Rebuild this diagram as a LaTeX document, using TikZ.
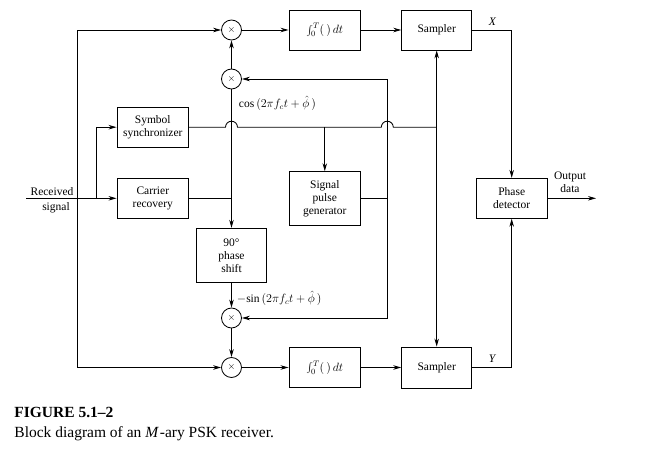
\documentclass[tikz,border=0pt]{standalone}
\usepackage{fontspec}
\setmainfont{Liberation Serif}
\usetikzlibrary{arrows.meta}
\begin{document}
\begin{tikzpicture}[x=1pt,y=-1pt,
  line width=0.85pt,
  >={Stealth[length=8pt,width=4.5pt]},
  blk/.style={draw,minimum width=71.7pt,minimum height=40pt,inner sep=1pt,align=center,font=\fontsize{11.5}{13}\selectfont},
  mult/.style={draw,circle,minimum size=20pt,inner sep=0pt},
  lbl/.style={inner sep=0pt,font=\fontsize{11.5}{13}\selectfont}]
\useasboundingbox (0,0) rectangle (657,465);
% blocks
\node[blk] (int1) at (324.8,30) {$\int_0^T(\,)\,dt$};
\node[blk,minimum width=70pt] (samp1) at (436.7,30) {Sampler};
\node[blk] (int2) at (324.8,367.5) {$\int_0^T(\,)\,dt$};
\node[blk,minimum width=70pt,minimum height=41pt] (samp2) at (436.7,367.5) {Sampler};
\node[blk] (sync) at (152.8,127.2) {Symbol\\synchronizer};
\node[blk] (carr) at (152.8,198.3) {Carrier\\recovery};
\node[blk,minimum height=53.3pt] (spg) at (324.8,198.3) {Signal\\pulse\\generator};
\node[blk,minimum width=70pt,minimum height=54pt] (shift) at (231.5,255.3) {90°\\phase\\shift};
\node[blk,minimum width=71.3pt] (phase) at (511.7,198.3) {Phase\\detector};
% multipliers
\node[mult] (m1) at (231.5,30) {$\times$};
\node[mult] (m2) at (231.5,79) {$\times$};
\node[mult] (m3) at (231.5,318) {$\times$};
\node[mult] (m4) at (231.5,367.5) {$\times$};
% coordinates
\coordinate (in) at (26,198.3);
\coordinate (lb) at (77,198.3);
\coordinate (br) at (96.3,198.3);
\coordinate (c1) at (231.5,198.3);
\coordinate (s1) at (387.3,198.3);
\coordinate (t0) at (324.8,127.2);
\coordinate (t1) at (436.7,127.2);
\coordinate (xo) at (511.7,30);
\coordinate (yo) at (511.7,367.5);
\coordinate (out) at (596,198.3);
% input
\draw[->] (in) -- (carr.west);
\draw[->] (br) |- (sync.west);
\draw[->] (lb) |- (m1.west);
\draw[->] (lb) |- (m4.west);
% I branch
\draw[->] (m1) -- (int1);
\draw[->] (int1) -- (samp1);
\draw[->] (m2) -- (m1);
\draw (c1) -- (m2.south);
\draw (carr.east) -- (c1);
\draw[->] (c1) -- (shift.north);
% Q branch
\draw[->] (shift.south) -- (m3.north);
\draw[->] (m3) -- (m4);
\draw[->] (m4) -- (int2);
\draw[->] (int2) -- (samp2);
% signal pulse generator
\draw (spg.east) -- (s1);
\draw[->] (s1) |- (m2.east);
\draw[->] (s1) |- (m3.east);
% symbol sync line with hops
\draw (sync.east) -- (225.5,127.2) arc[start angle=180,end angle=0,radius=6pt]
  -- (381.3,127.2) arc[start angle=180,end angle=0,radius=6pt] -- (t1);
\draw[->] (t0) -- (spg.north);
\draw[->] (t1) -- (samp1.south);
\draw[->] (t1) -- (samp2.north);
% outputs
\draw[->] (samp1.east) -- (xo) -- (phase.north);
\draw[->] (samp2.east) -- (yo) -- (phase.south);
\draw[->] (phase.east) -- (out);
% labels
\node[lbl] (lx) at (492.5,22) {\textit{X}};
\node[lbl] (ly) at (492.5,359) {\textit{Y}};
\node[lbl,align=center] (lout) at (570,182.5) {Output\\data};
\node[lbl] (lrec) at (52,191.5) {Received};
\node[lbl] (lsig) at (56,207.5) {signal};
\node[lbl,anchor=west] (lcos) at (238.5,103) {$\cos\,(2\pi f_c t+\hat{\phi}\,)$};
\node[lbl,anchor=west] (lsin) at (236.5,298) {${-}\!\sin\,(2\pi f_c t+\hat{\phi}\,)$};
% caption
\node[anchor=base west,inner sep=0pt,font=\fontsize{15.5}{18}\selectfont\bfseries] (cap1) at (14,417.5) {FIGURE 5.1–2};
\node[anchor=base west,inner sep=0pt,font=\fontsize{15.5}{18}\selectfont] (cap2) at (14,437.5) {Block diagram of an \textit{M}\kern1pt-ary PSK receiver.};
\end{tikzpicture}
\end{document}
